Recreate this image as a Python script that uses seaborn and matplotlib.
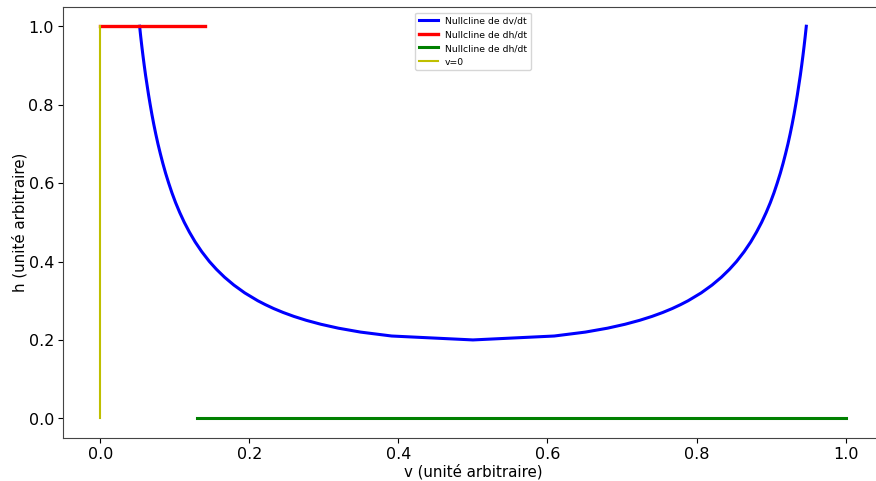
import matplotlib
matplotlib.use("Agg")
import matplotlib.pyplot as plt
import seaborn as sns

# Nullcline dv/dt: h levels and the two branches of v
h_levels = [1.000, 0.975, 0.950, 0.925, 0.900, 0.875, 0.850, 0.825, 0.800, 0.775,
            0.750, 0.725, 0.700, 0.675, 0.650, 0.625, 0.600, 0.575, 0.550, 0.525,
            0.500, 0.475, 0.450, 0.425, 0.400, 0.380, 0.360, 0.340, 0.320, 0.300,
            0.290, 0.280, 0.270, 0.260, 0.250, 0.240, 0.230, 0.220, 0.210, 0.200]
v_left = [0.0528, 0.0542, 0.0557, 0.0573, 0.0590, 0.0608, 0.0628, 0.0648, 0.0670, 0.0693,
          0.0718, 0.0745, 0.0774, 0.0806, 0.0840, 0.0877, 0.0918, 0.0962, 0.1011, 0.1066,
          0.1127, 0.1196, 0.1273, 0.1362, 0.1464, 0.1559, 0.1667, 0.1792, 0.1938, 0.2113,
          0.2215, 0.2327, 0.2454, 0.2598, 0.2764, 0.2959, 0.3194, 0.3492, 0.3909, 0.5000]
v_right = [0.9472, 0.9458, 0.9443, 0.9427, 0.9410, 0.9392, 0.9372, 0.9352, 0.9330, 0.9307,
           0.9282, 0.9255, 0.9226, 0.9194, 0.9160, 0.9123, 0.9082, 0.9038, 0.8989, 0.8934,
           0.8873, 0.8804, 0.8727, 0.8638, 0.8536, 0.8441, 0.8333, 0.8208, 0.8062, 0.7887,
           0.7785, 0.7673, 0.7546, 0.7402, 0.7236, 0.7041, 0.6806, 0.6508, 0.6091, 0.5000]

# Nullcline dh/dt (top) and (bottom), and v=0 line
red_v = [0.0, 0.14]
red_h = [1.0, 1.0]
green_v = [0.13, 1.0]
green_h = [0.0, 0.0]
yellow_v = [0.0, 0.0]
yellow_h = [0.0, 1.0]

blue_v = v_left + v_right[::-1]
blue_h = h_levels + h_levels[::-1]

fig = plt.figure(figsize=(8.76, 4.814), dpi=100)
ax = fig.add_axes([0.0719, 0.0894, 0.936, 0.896])

sns.lineplot(x=blue_v, y=blue_h, sort=False, estimator=None, color="blue", lw=2.2,
             label="Nullcline de dv/dt", ax=ax)
sns.lineplot(x=red_v, y=red_h, sort=False, estimator=None, color="red", lw=2.4,
             label="Nullcline de dh/dt", ax=ax)
sns.lineplot(x=green_v, y=green_h, sort=False, estimator=None, color="green", lw=2.2,
             label="Nullcline de dh/dt", ax=ax)
sns.lineplot(x=yellow_v, y=yellow_h, sort=False, estimator=None, color="y", lw=1.5,
             label="v=0", ax=ax)

ax.set_xlim(-0.05, 1.05)
ax.set_ylim(-0.05, 1.05)
ax.set_xticks([0.0, 0.2, 0.4, 0.6, 0.8, 1.0])
ax.set_yticks([0.0, 0.2, 0.4, 0.6, 0.8, 1.0])
ax.tick_params(labelsize=11.5, pad=3)
ax.set_xlabel("v (unité arbitraire)", fontsize=10.8, labelpad=1)
ax.set_ylabel("h (unité arbitraire)", fontsize=10.8, labelpad=0.5)
for s in ax.spines.values():
    s.set_color("#444444")
ax.legend(loc="upper center", fontsize=6.7, bbox_to_anchor=(0.5, 0.997))

fig.savefig("out.png", dpi=100)
